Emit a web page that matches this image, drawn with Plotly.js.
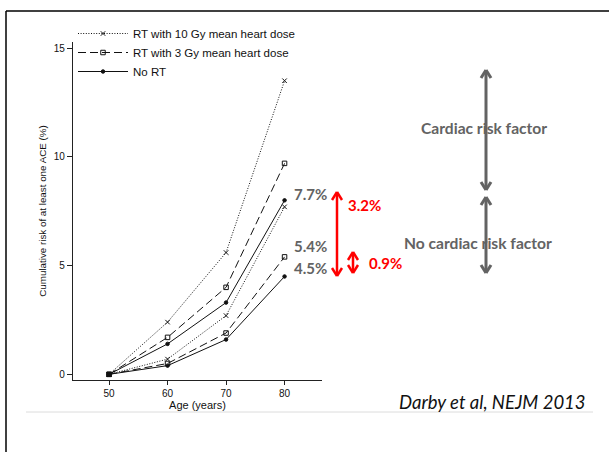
<!DOCTYPE html>
<html>
<head>
<meta charset="utf-8">
<script src="https://cdn.plot.ly/plotly-3.0.1.min.js"></script>
<style>html,body{margin:0;padding:0;background:#fff;}#chart{width:609px;height:452px;}</style>
</head>
<body>
<div id="chart"></div>
<script>
// ---- data ----
const ages = [50, 60, 70, 80];
// with a cardiac risk factor
const rt10WithRisk = [0, 2.4, 5.6, 13.5];
const rt3WithRisk = [0, 1.7, 4.0, 9.7];
const noRtWithRisk = [0, 1.4, 3.3, 8.0];
// without a cardiac risk factor
const rt10NoRisk = [0, 0.7, 2.7, 7.7];
const rt3NoRisk = [0, 0.5, 1.9, 5.4];
const noRtNoRisk = [0, 0.4, 1.6, 4.5];

const seriesNames = ['RT with 10 Gy mean heart dose', 'RT with 3 Gy mean heart dose', 'No RT'];
const yTicks = [0, 5, 10, 15];
const xTicks = [50, 60, 70, 80];
const pctLabels = ['7.7%', '5.4%', '4.5%'];
const diffLabels = ['3.2%', '0.9%'];
const groupLabels = ['Cardiac risk factor', 'No cardiac risk factor'];
const sourceText = 'Darby et al, NEJM 2013';

// ---- geometry helpers (pixel -> paper) ----
const W = 609, H = 452;
const M = {l: 73, r: 287, t: 42, b: 72};
const PW = W - M.l - M.r, PH = H - M.t - M.b;
const px = v => (v - M.l) / PW;
const py = v => (H - M.b - v) / PH;

const styles = [
  {dash: '1px,1.6px', symbol: 'x-thin-open', size: 4.5},
  {dash: '8px,4px', symbol: 'square-open', size: 4.5},
  {dash: 'solid', symbol: 'circle', size: 3.5}
];
function mk(y, i, show) {
  return {
    x: ages, y: y, type: 'scatter', mode: 'lines+markers',
    name: seriesNames[i], showlegend: show,
    line: {color: '#111', width: 1, dash: styles[i].dash},
    marker: {color: '#111', symbol: styles[i].symbol, size: styles[i].size, line: {color: '#111', width: 1}},
    hoverinfo: 'skip'
  };
}
const traces = [
  mk(rt10WithRisk, 0, true), mk(rt3WithRisk, 1, true), mk(noRtWithRisk, 2, true),
  mk(rt10NoRisk, 0, false), mk(rt3NoRisk, 1, false), mk(noRtNoRisk, 2, false)
];

const GRAY = '#636363', RED = '#ff0000';
const shapes = [];
function line(x0, y0, x1, y1, color, width) {
  shapes.push({type: 'line', xref: 'paper', yref: 'paper', x0: px(x0), y0: py(y0), x1: px(x1), y1: py(y1),
    line: {color: color, width: width}});
}
function dblArrow(x, yTop, yBot, color, width) {
  line(x, yTop + 1, x, yBot - 1, color, width);
  line(x - 5, yTop + 8, x, yTop, color, width);
  line(x + 5, yTop + 8, x, yTop, color, width);
  line(x - 5, yBot - 8, x, yBot, color, width);
  line(x + 5, yBot - 8, x, yBot, color, width);
}
// frame
line(6, 11, 612, 11, '#000', 1.5);
line(6, 11, 6, 455, '#000', 1.5);
// divider
line(26, 412, 593, 412, '#dcdcdc', 1);
// gray arrows
dblArrow(486, 70, 190, GRAY, 3);
dblArrow(486, 197, 273, GRAY, 3);
// red arrows
dblArrow(337, 192, 276, RED, 2.5);
dblArrow(353, 252, 273, RED, 2.5);

const annotations = [];
function txt(text, x, y, size, color, family, anchor) {
  annotations.push({text: text, xref: 'paper', yref: 'paper', x: px(x), y: py(y),
    xanchor: anchor || 'center', yanchor: 'middle', showarrow: false,
    font: {size: size, color: color, family: family}});
}
const BOLD = 'Lato, "Open Sans", sans-serif';
txt('<b>' + pctLabels[0] + '</b>', 310, 194, 15, GRAY, BOLD);
txt('<b>' + pctLabels[1] + '</b>', 310, 246, 15, GRAY, BOLD);
txt('<b>' + pctLabels[2] + '</b>', 310, 268, 15, GRAY, BOLD);
txt('<b>' + diffLabels[0] + '</b>', 346, 205, 15, RED, BOLD, 'left');
txt('<b>' + diffLabels[1] + '</b>', 367, 263, 15, RED, BOLD, 'left');
txt('<b>' + groupLabels[0] + '</b>', 484, 128, 15.6, GRAY, BOLD);
txt('<b>' + groupLabels[1] + '</b>', 478, 243, 15.6, GRAY, BOLD);
txt('<i>' + sourceText + '</i>', 588, 402, 18.5, '#111', BOLD, 'right');

const layout = {
  width: W, height: H,
  margin: M,
  paper_bgcolor: '#fff', plot_bgcolor: '#fff',
  font: {family: 'Liberation Sans, Arial, sans-serif', size: 10, color: '#111'},
  xaxis: {
    range: [43.84, 86.4], tickvals: xTicks, ticktext: xTicks.map(String),
    showgrid: false, zeroline: false, showline: true, linecolor: '#222', linewidth: 1.2,
    ticks: 'outside', ticklen: 4, tickcolor: '#222',
    title: {text: 'Age (years)', font: {size: 11}, standoff: 0}
  },
  yaxis: {
    range: [-0.26, 15.28], tickvals: yTicks, ticktext: yTicks.map(String),
    showgrid: false, zeroline: false, showline: true, linecolor: '#222', linewidth: 1.2,
    ticks: 'outside', ticklen: 5, tickcolor: '#222',
    title: {text: 'Cumulative risk of at least one ACE (%)', font: {size: 9.8}, standoff: 5}
  },
  showlegend: true,
  legend: {x: 0, xanchor: 'left', y: py(19), yanchor: 'top', bgcolor: 'rgba(0,0,0,0)',
    font: {size: 11.5, color: '#111'}, itemwidth: 50, tracegroupgap: 0, traceorder: 'normal'},
  shapes: shapes,
  annotations: annotations
};
Plotly.newPlot('chart', traces, layout, {staticPlot: true});
</script>
</body>
</html>
